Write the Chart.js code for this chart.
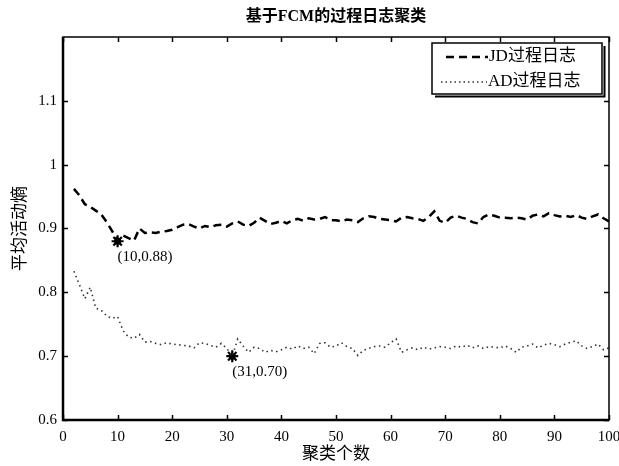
<!DOCTYPE html>
<html>
<head>
<meta charset="utf-8">
<title>基于FCM的过程日志聚类</title>
<script src="https://cdn.jsdelivr.net/npm/chart.js@4"></script>
<style>
  html, body { margin: 0; padding: 0; background: #fff; }
  #wrap { width: 619px; height: 466px; }
</style>
</head>
<body>
<div id="wrap"><canvas id="myChart" width="619" height="466"></canvas></div>
<script>
"use strict";

/* ****************************************************************************
    DATA
**************************************************************************** */
var chartTitle = "基于FCM的过程日志聚类";
var xTitle = "聚类个数";
var yTitle = "平均活动熵";
var seriesNames = ["JD过程日志", "AD过程日志"];

// cluster counts 2..100
var clusterCounts = [];
for (let k = 2; k <= 100; k++) {
  clusterCounts.push(k);
}

// JD process log (dashed line)
var jdEntropy = [
  0.962, 0.952, 0.938, 0.934, 0.928, 0.922, 0.910, 0.896, 0.880, 0.889,
  0.885, 0.881, 0.900, 0.893, 0.894, 0.893, 0.895, 0.896, 0.898, 0.902,
  0.906, 0.907, 0.903, 0.900, 0.904, 0.902, 0.905, 0.906, 0.903, 0.908,
  0.911, 0.906, 0.904, 0.909, 0.917, 0.912, 0.907, 0.909, 0.912, 0.908,
  0.913, 0.915, 0.912, 0.916, 0.914, 0.915, 0.918, 0.913, 0.913, 0.911,
  0.914, 0.913, 0.910, 0.916, 0.919, 0.918, 0.915, 0.914, 0.913, 0.911,
  0.917, 0.918, 0.916, 0.915, 0.912, 0.918, 0.927, 0.912, 0.909, 0.917,
  0.920, 0.917, 0.915, 0.910, 0.908, 0.918, 0.922, 0.920, 0.917, 0.917,
  0.916, 0.917, 0.916, 0.914, 0.920, 0.922, 0.919, 0.924, 0.921, 0.919,
  0.920, 0.918, 0.921, 0.917, 0.915, 0.919, 0.922, 0.916, 0.911
];

// AD process log (dotted line)
var adEntropy = [
  0.833, 0.812, 0.790, 0.808, 0.775, 0.772, 0.763, 0.759, 0.762, 0.740,
  0.730, 0.728, 0.734, 0.722, 0.723, 0.720, 0.718, 0.721, 0.719, 0.718,
  0.717, 0.716, 0.713, 0.721, 0.720, 0.717, 0.714, 0.720, 0.712, 0.700,
  0.727, 0.716, 0.706, 0.714, 0.712, 0.706, 0.709, 0.707, 0.710, 0.714,
  0.711, 0.716, 0.712, 0.714, 0.704, 0.720, 0.721, 0.714, 0.716, 0.721,
  0.715, 0.712, 0.701, 0.709, 0.712, 0.715, 0.716, 0.714, 0.721, 0.727,
  0.706, 0.710, 0.713, 0.710, 0.714, 0.711, 0.713, 0.715, 0.714, 0.712,
  0.716, 0.714, 0.717, 0.713, 0.716, 0.712, 0.715, 0.714, 0.713, 0.716,
  0.712, 0.706, 0.714, 0.716, 0.719, 0.713, 0.717, 0.720, 0.718, 0.715,
  0.719, 0.722, 0.724, 0.716, 0.712, 0.715, 0.719, 0.710, 0.713
];

// marked minimum points
var markX = [10, 31];
var markY = [0.88, 0.70];
var markLabels = ["(10,0.88)", "(31,0.70)"];

// axis ticks
var xTicks = [0, 10, 20, 30, 40, 50, 60, 70, 80, 90, 100];
var yTicks = [0.6, 0.7, 0.8, 0.9, 1.0, 1.1];

/* ****************************************************************************
    HELPERS
**************************************************************************** */
var serifFont = '"Liberation Serif", "DejaVu Serif", "Noto Sans CJK SC", serif';
var cjkFont = '"Liberation Serif", "Noto Sans CJK SC", sans-serif';

function toPoints(xs, ys) {
  let pts = [];
  for (let i = 0; i < ys.length; i++) {
    pts.push({ x: xs[i], y: ys[i] });
  }
  return pts;
}

/* ****************************************************************************
    MATLAB STYLE FRAME, TITLE, LEGEND AND NOTES
**************************************************************************** */
var matlabPlugin = {
  id: "matlabFrame",
  afterDraw(chart) {
    const ctx = chart.ctx;
    const area = chart.chartArea;
    const xs = chart.scales.x;
    const ys = chart.scales.y;
    ctx.save();
    ctx.strokeStyle = "#000";

    // box
    ctx.lineWidth = 1.5;
    ctx.strokeRect(area.left, area.top, area.right - area.left, area.bottom - area.top);
    ctx.lineWidth = 2.5;
    ctx.beginPath();
    ctx.moveTo(area.left, area.top);
    ctx.lineTo(area.left, area.bottom);
    ctx.lineTo(area.right, area.bottom);
    ctx.stroke();

    // inward ticks on all four sides
    ctx.lineWidth = 1.5;
    ctx.beginPath();
    xTicks.forEach(function (t) {
      const px = Math.round(xs.getPixelForValue(t)) + 0.5;
      ctx.moveTo(px, area.bottom);
      ctx.lineTo(px, area.bottom - 5);
      ctx.moveTo(px, area.top);
      ctx.lineTo(px, area.top + 5);
    });
    yTicks.forEach(function (t) {
      const py = Math.round(ys.getPixelForValue(t)) + 0.5;
      ctx.moveTo(area.left, py);
      ctx.lineTo(area.left + 5, py);
      ctx.moveTo(area.right, py);
      ctx.lineTo(area.right - 5, py);
    });
    ctx.stroke();

    // title
    ctx.fillStyle = "#000";
    ctx.font = "bold 16px " + cjkFont;
    ctx.textAlign = "center";
    ctx.textBaseline = "middle";
    ctx.fillText(chartTitle, (area.left + area.right) / 2, 17);

    // point notes
    ctx.font = "15px " + serifFont;
    ctx.textAlign = "left";
    for (let i = 0; i < markLabels.length; i++) {
      const px = xs.getPixelForValue(markX[i]);
      const py = ys.getPixelForValue(markY[i]);
      ctx.fillText(markLabels[i], px, py + 16);
    }

    // legend box with shadow
    const lx = 432, ly = 43, lw = 170, lh = 51;
    ctx.fillStyle = "#fff";
    ctx.fillRect(lx, ly, lw, lh);
    ctx.lineWidth = 1.5;
    ctx.strokeRect(lx, ly, lw, lh);
    ctx.lineWidth = 2;
    ctx.beginPath();
    ctx.moveTo(lx + lw + 2.5, ly + 3);
    ctx.lineTo(lx + lw + 2.5, ly + lh + 2.5);
    ctx.lineTo(lx + 3, ly + lh + 2.5);
    ctx.stroke();

    // legend samples
    ctx.strokeStyle = "#000";
    ctx.lineWidth = 2.5;
    ctx.setLineDash([8, 5]);
    ctx.beginPath();
    ctx.moveTo(446, 57);
    ctx.lineTo(488, 57);
    ctx.stroke();
    ctx.strokeStyle = "#333";
    ctx.lineWidth = 1.5;
    ctx.setLineDash([1.5, 3]);
    ctx.beginPath();
    ctx.moveTo(441, 82);
    ctx.lineTo(487, 82);
    ctx.stroke();
    ctx.setLineDash([]);

    ctx.fillStyle = "#000";
    ctx.font = "17px " + cjkFont;
    ctx.textAlign = "left";
    ctx.fillText(seriesNames[0], 489, 57);
    ctx.fillText(seriesNames[1], 488, 82);
    ctx.restore();
  },
};

/* ****************************************************************************
    CHART
**************************************************************************** */
function renderChart() {
  const data = {
    datasets: [
      {
        label: seriesNames[0],
        data: toPoints(clusterCounts, jdEntropy),
        borderColor: "#000",
        borderWidth: 2.5,
        borderDash: [8, 5],
        pointRadius: 0,
        tension: 0,
      },
      {
        label: seriesNames[1],
        data: toPoints(clusterCounts, adEntropy),
        borderColor: "#333",
        borderWidth: 1.6,
        borderDash: [1.5, 3.5],
        pointRadius: 0,
        tension: 0,
      },
      {
        label: "marks",
        data: toPoints(markX, markY),
        showLine: false,
        pointStyle: "star",
        pointRadius: 6,
        borderColor: "#000",
        borderWidth: 2.2,
        backgroundColor: "#000",
      },
      {
        label: "marks fill",
        data: toPoints(markX, markY),
        showLine: false,
        pointStyle: "circle",
        pointRadius: 3.5,
        borderWidth: 0,
        backgroundColor: "#000",
      },
    ],
  };

  const config = {
    type: "line",
    data: data,
    plugins: [matlabPlugin],
    options: {
      responsive: false,
      animation: false,
      layout: { padding: { top: 37, right: 10, left: 0, bottom: 0 } },
      plugins: {
        legend: { display: false },
        title: { display: false },
        tooltip: { enabled: false },
      },
      scales: {
        x: {
          type: "linear",
          min: 0,
          max: 100,
          grid: { display: false, drawTicks: false },
          border: { display: false },
          ticks: {
            stepSize: 10,
            padding: 8,
            color: "#000",
            maxRotation: 0,
            font: { family: serifFont, size: 15 },
          },
          title: {
            display: true,
            text: xTitle,
            color: "#000",
            font: { family: cjkFont, size: 17 },
            padding: { top: 0, bottom: 1 },
          },
          afterFit(scale) {
            scale.height = 46;
            scale.paddingLeft = 0;
            scale.paddingRight = 0;
          },
        },
        y: {
          min: 0.6,
          max: 1.2,
          grid: { display: false, drawTicks: false },
          border: { display: false },
          ticks: {
            stepSize: 0.1,
            padding: 6,
            color: "#000",
            font: { family: serifFont, size: 15 },
            callback: function (v) {
              const r = Math.round(v * 10) / 10;
              return r > 1.15 ? "" : String(r);
            },
          },
          title: {
            display: true,
            text: yTitle,
            color: "#000",
            font: { family: cjkFont, size: 17 },
            padding: { top: 10, bottom: 0 },
          },
          afterFit(scale) {
            scale.width = 63;
          },
        },
      },
    },
  };

  const myChart = new Chart(document.getElementById("myChart"), config);
}

renderChart();
</script>
</body>
</html>
